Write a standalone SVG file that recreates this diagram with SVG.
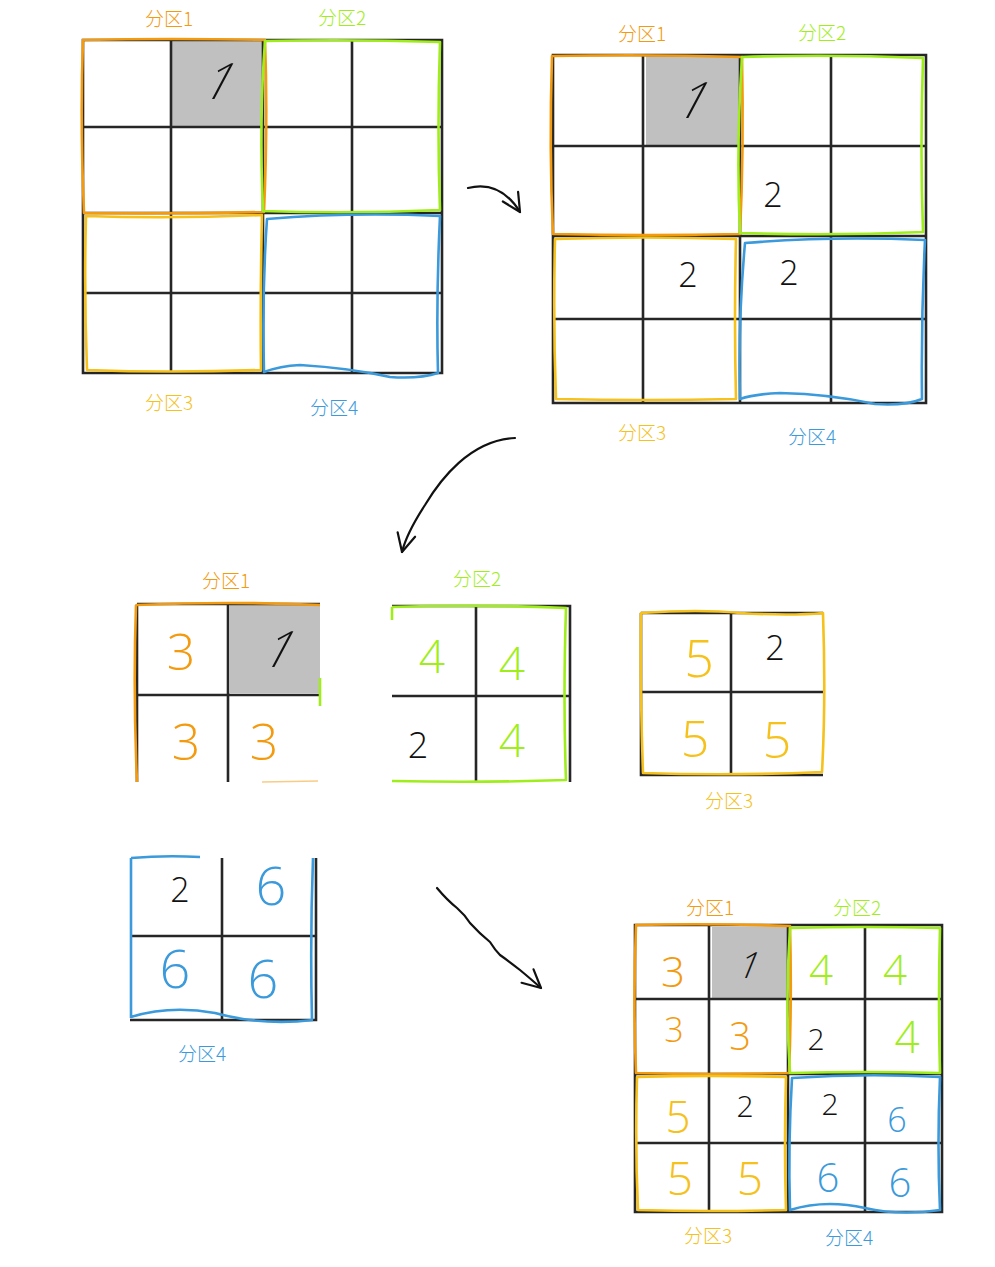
<svg xmlns="http://www.w3.org/2000/svg" width="995" height="1267" viewBox="0 0 995 1267">
<style>
.k{fill:none;stroke:#262626;stroke-width:2.6}
.gy{fill:#c0c0c0}
.o{fill:none;stroke:#F39A0E;stroke-width:2.6;stroke-linejoin:round}
.gn{fill:none;stroke:#9FEE1C;stroke-width:2.6;stroke-linejoin:round}
.y{fill:none;stroke:#F5C11A;stroke-width:2.6;stroke-linejoin:round}
.b{fill:none;stroke:#3A9ADB;stroke-width:2.6;stroke-linejoin:round}
.lbl{font-family:"Noto Sans CJK SC",sans-serif;font-weight:300;font-size:19px;text-anchor:middle}
.d{font-family:"Open Sans","Liberation Sans",sans-serif;font-weight:300;text-anchor:middle}
.to{fill:#F39A0E}.tg{fill:#9FEE1C}.ty{fill:#F5C11A}.tb{fill:#3A9ADB}.tk{fill:#111}
.arr{fill:none;stroke:#111;stroke-width:2.2;stroke-linecap:round;stroke-linejoin:round}
</style>
<defs>
<marker id="ah" markerUnits="userSpaceOnUse" markerWidth="30" markerHeight="30" refX="0" refY="0" viewBox="-20 -15 30 30" orient="auto">
<path d="M-18,-9 L0,0 L-18,9" fill="none" stroke="#111" stroke-width="2.2" stroke-linecap="round" stroke-linejoin="round"/>
</marker>
</defs>
<rect x="0" y="0" width="995" height="1267" fill="#fff"/>

<g id="grid1">
<rect class="gy" x="172" y="41" width="91" height="85"/>
<path class="k" d="M83,40 H442 V373 H83 Z M171,40 V373 M263,40 V373 M352,40 V373 M83,127 H442 M83,213 H442 M83,293 H442"/>
<path class="o" d="M83,40 Q170,38 265,40 Q268,120 264,212 Q170,214 84,213 Q80,120 83,40 Z"/>
<path class="gn" d="M265,41 Q350,39 440,42 Q437,130 440,210 Q350,214 263,211 Q259,120 265,41 Z"/>
<path class="y" d="M86,216 Q170,219 262,215 Q260,300 261,370 Q170,373 87,370 Q84,290 86,216 Z"/>
<path class="b" d="M267,219 Q350,212 440,216 Q436,300 438,373 Q420,379 390,377 Q350,368 300,365 Q280,366 264,372 Q262,290 267,219 Z"/>
<text class="d tk" font-size="50" transform="translate(212,99) skewX(-28)">1</text>
<text class="lbl to" x="169" y="26">分区1</text>
<text class="lbl tg" x="342" y="25">分区2</text>
<text class="lbl ty" x="169" y="410">分区3</text>
<text class="lbl tb" x="334" y="415">分区4</text>
</g>

<g id="grid2">
<rect class="gy" x="646" y="56" width="93" height="89"/>
<path class="k" d="M553,55 H926 V403 H553 Z M643,55 V403 M740,55 V403 M831,55 V403 M553,146 H926 M553,236 H926 M553,319 H926"/>
<path class="o" d="M552,56 Q650,54 742,57 Q744,150 740,234 Q650,236 553,234 Q549,150 552,56 Z"/>
<path class="gn" d="M742,57 Q830,54 923,58 Q920,150 923,232 Q830,236 740,233 Q736,150 742,57 Z"/>
<path class="y" d="M555,239 Q645,236 736,239 Q734,320 736,399 Q645,401 556,399 Q553,320 555,239 Z"/>
<path class="b" d="M745,243 Q830,236 925,240 Q921,320 922,399 Q905,406 875,404 Q830,394 780,393 Q755,394 740,399 Q738,320 745,243 Z"/>
<text class="d tk" font-size="50" transform="translate(686,118) skewX(-28)">1</text>
<text class="d tk" font-size="34" x="773" y="207">2</text>
<text class="d tk" font-size="34" x="688" y="287">2</text>
<text class="d tk" font-size="34" x="789" y="285">2</text>
<text class="lbl to" x="642" y="41">分区1</text>
<text class="lbl tg" x="822" y="40">分区2</text>
<text class="lbl ty" x="642" y="440">分区3</text>
<text class="lbl tb" x="812" y="444">分区4</text>
</g>

<g id="part1">
<rect class="gy" x="230" y="605" width="90" height="88"/>
<path class="k" d="M137,604 H320 M137,604 V782 M228,604 V782 M137,695 H320"/>
<path class="o" d="M136,605 Q230,601 320,605 M136,605 Q133,690 137,782"/>
<path d="M262,782 L318,781" fill="none" stroke="#F39A0E" stroke-width="1.5" opacity="0.5"/>
<path class="gn" d="M320,678 L320,706"/>
<text class="d tk" font-size="50" transform="translate(272,667) skewX(-28)">1</text>
<text class="d to" font-size="50" x="181" y="670">3</text>
<text class="d to" font-size="50" x="186" y="760">3</text>
<text class="d to" font-size="50" x="264" y="760">3</text>
<text class="lbl to" x="226" y="588">分区1</text>
</g>

<g id="part2">
<path class="k" d="M392,606 H570 V782 M476,606 V782 M392,696 H570"/>
<path class="gn" d="M392,607 Q480,604 566,608 Q563,700 566,780 Q480,783 392,781 M392,607 L392,620"/>
<text class="d tg" font-size="46" x="432" y="673">4</text>
<text class="d tg" font-size="46" x="512" y="680">4</text>
<text class="d tg" font-size="46" x="512" y="757">4</text>
<text class="d tk" font-size="36" x="418" y="758">2</text>
<text class="lbl tg" x="477" y="586">分区2</text>
</g>

<g id="part3">
<path class="k" d="M641,613 H823 M641,613 V775 H823 M731,613 V775 M641,692 H825"/>
<path class="y" d="M641,613 Q700,609 740,613 Q790,616 823,613 Q826,700 822,772 Q730,776 643,773 Q640,690 641,613 Z"/>
<text class="d ty" font-size="52" x="699" y="677">5</text>
<text class="d tk" font-size="34" x="775" y="660">2</text>
<text class="d ty" font-size="50" x="695" y="757">5</text>
<text class="d ty" font-size="50" x="777" y="758">5</text>
<text class="lbl ty" x="729" y="808">分区3</text>
</g>

<g id="part4">
<path class="k" d="M222,858 V1020 M130,936 H316 M316,858 V1020 H130"/>
<path class="b" d="M131,858 L131,1018 M131,858 Q165,855 200,857 M313,858 Q310,940 312,1020 M131,1017 Q170,1005 215,1013 Q262,1026 313,1020"/>
<text class="d tk" font-size="34" x="180" y="902">2</text>
<text class="d tb" font-size="54" x="271" y="905">6</text>
<text class="d tb" font-size="54" x="175" y="988">6</text>
<text class="d tb" font-size="54" x="263" y="998">6</text>
<text class="lbl tb" x="202" y="1061">分区4</text>
</g>

<g id="result">
<rect class="gy" x="712" y="927" width="75" height="71"/>
<path class="k" d="M635,925 H942 V1212 H635 Z M709,925 V1212 M788,925 V1212 M865,925 V1212 M635,999 H942 M635,1074 H942 M635,1143 H942"/>
<path class="o" d="M636,925 Q710,923 790,926 Q792,1000 789,1073 Q710,1075 636,1073 Q633,1000 636,925 Z"/>
<path class="gn" d="M790,928 Q865,926 940,928 Q938,1000 940,1073 Q865,1071 790,1073 Q785,1000 790,928 Z"/>
<path class="y" d="M637,1077 Q710,1075 786,1077 Q784,1145 786,1210 Q710,1212 638,1210 Q635,1145 637,1077 Z"/>
<path class="b" d="M792,1078 Q865,1073 940,1077 Q937,1145 940,1210 Q900,1216 865,1208 Q825,1199 790,1210 Q788,1145 792,1078 Z"/>
<text class="d tk" font-size="36" transform="translate(745,978) skewX(-22)">1</text>
<text class="d to" font-size="42" x="673" y="987">3</text>
<text class="d tg" font-size="42" x="821" y="985">4</text>
<text class="d tg" font-size="42" x="895" y="985">4</text>
<text class="d to" font-size="34" x="674" y="1042">3</text>
<text class="d to" font-size="38" x="740" y="1050">3</text>
<text class="d tk" font-size="30" x="816" y="1050">2</text>
<text class="d tg" font-size="44" x="907" y="1053">4</text>
<text class="d ty" font-size="44" x="678" y="1133">5</text>
<text class="d tk" font-size="30" x="745" y="1117">2</text>
<text class="d tk" font-size="30" x="830" y="1115">2</text>
<text class="d tb" font-size="34" x="897" y="1132">6</text>
<text class="d ty" font-size="46" x="680" y="1195">5</text>
<text class="d ty" font-size="46" x="750" y="1195">5</text>
<text class="d tb" font-size="40" x="828" y="1192">6</text>
<text class="d tb" font-size="40" x="900" y="1197">6</text>
<text class="lbl to" font-size="17" x="710" y="915">分区1</text>
<text class="lbl tg" font-size="17" x="857" y="915">分区2</text>
<text class="lbl ty" font-size="17" x="708" y="1243">分区3</text>
<text class="lbl tb" font-size="17" x="849" y="1245">分区4</text>
</g>

<g id="connectors">
<path class="arr" marker-end="url(#ah)" d="M468,188 Q500,180 520,212"/>
<path class="arr" marker-end="url(#ah)" d="M515,438 C470,440 440,480 425,505 C412,525 405,540 402,552"/>
<path class="arr" marker-end="url(#ah)" d="M437,888 Q447,900 457,908 Q465,915 470,923 Q480,934 490,942 Q495,950 500,955 Q510,962 520,970 Q532,980 541,988"/>
</g>
</svg>
